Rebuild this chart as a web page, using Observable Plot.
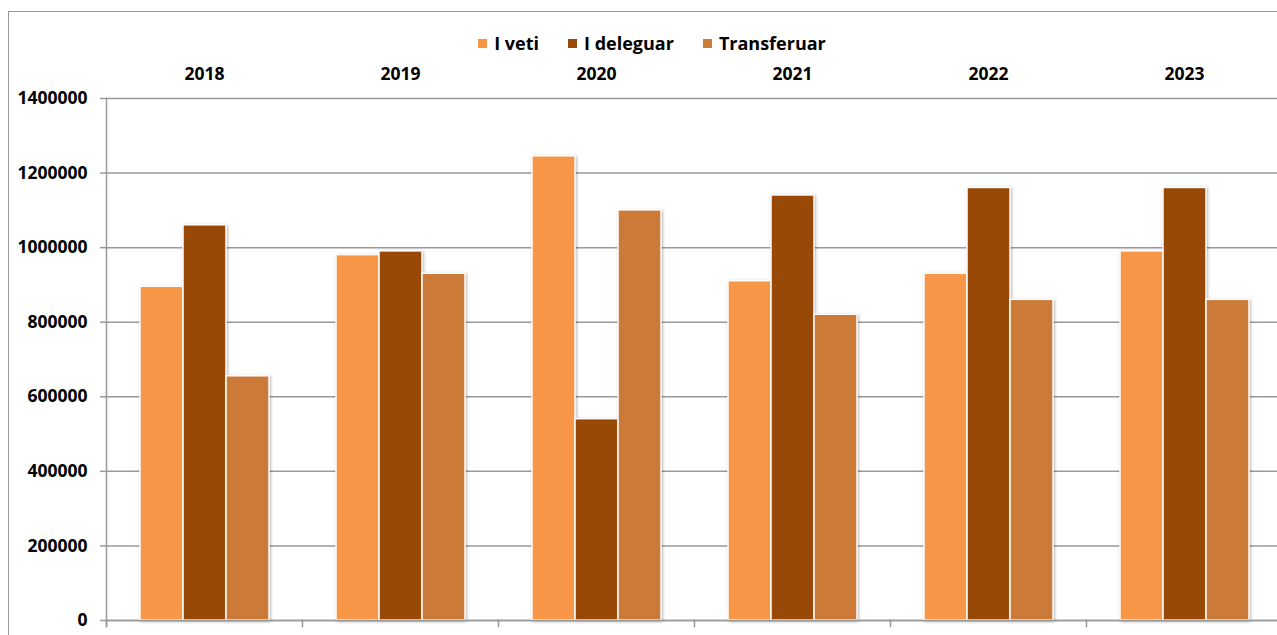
<!DOCTYPE html>
<html><head><meta charset="utf-8">
<script src="https://cdn.jsdelivr.net/npm/d3@7"></script>
<script src="https://cdn.jsdelivr.net/npm/@observablehq/plot@0.6"></script>
<style>
html,body{margin:0;padding:0;background:#fff;overflow:hidden;}
#wrap{position:relative;width:1277px;height:635px;overflow:hidden;font-family:"Open Sans",sans-serif;}
#border{position:absolute;left:8px;top:11px;width:1400px;height:700px;border-left:1.5px solid #999;border-top:1.5px solid #999;}
#legend{position:absolute;top:31px;left:0;width:1304px;display:flex;justify-content:center;gap:29px;font-weight:bold;font-size:18px;line-height:24px;color:#000;}
.item{display:flex;align-items:center;gap:7px}
.sw{width:9px;height:9px;display:inline-block}
#chart{position:absolute;left:0;top:0;width:1290px;}
#chart svg{max-width:none !important;}
</style></head><body><div id="wrap"><div id="border"></div><div id="legend"></div><div id="chart"></div></div>
<script>
const years = ["2018", "2019", "2020", "2021", "2022", "2023"];
const series = ["I veti", "I deleguar", "Transferuar"];
const iVeti = [895000, 980000, 1245000, 910000, 930000, 990000];
const iDeleguar = [1060000, 990000, 540000, 1140000, 1160000, 1160000];
const transferuar = [655000, 930000, 1100000, 820000, 860000, 860000];
const colors = ["#F79646", "#984807", "#CC7A38"];
const yTicks = [0, 200000, 400000, 600000, 800000, 1000000, 1200000, 1400000];

const valuesBySeries = [iVeti, iDeleguar, transferuar];
const data = years.flatMap((y, i) => series.map((s, j) => ({year: y, series: s, value: valuesBySeries[j][i]})));

// legend
const legend = document.getElementById("legend");
series.forEach((s, j) => {
  const it = document.createElement("div");
  it.className = "item";
  const sw = document.createElement("span");
  sw.className = "sw";
  sw.style.background = colors[j];
  const t = document.createElement("span");
  t.textContent = s;
  it.appendChild(sw); it.appendChild(t);
  legend.appendChild(it);
});

const W = 1290, H = 640, ML = 106, MR = 8, MT = 98, MB = 20;
const plotH = H - MT - MB;

const chart = Plot.plot({
  width: W, height: H,
  marginLeft: ML, marginRight: MR, marginTop: MT, marginBottom: MB,
  style: {fontFamily: "Open Sans", fontSize: "17.5px", fontWeight: "bold", color: "#000", background: "transparent", maxWidth: "none"},
  fx: {domain: years, padding: 0, label: null},
  x: {domain: series, paddingInner: 0, paddingOuter: 0.76, axis: null},
  y: {domain: [0, 1400000], label: null},
  color: {domain: series, range: colors},
  marks: [
    Plot.ruleY(yTicks, {stroke: "#999", strokeWidth: 1.5}),
    Plot.barY(data, {fx: "year", x: "series", y: "value", fill: "series", stroke: "white", strokeWidth: 1.5}),
    Plot.axisFx({anchor: "top", tickSize: 0, tickPadding: 19, label: null}),
    Plot.axisY({ticks: yTicks, tickSize: 6, tickPadding: 13, tickFormat: d3.format("d"), label: null, stroke: "#999", strokeWidth: 1.5}),
    Plot.frame({anchor: "left", facetAnchor: "left", stroke: "#999", strokeWidth: 1.5, insetBottom: -6}),
    Plot.frame({anchor: "left", stroke: "#999", strokeWidth: 1.5, insetTop: plotH, insetBottom: -6}),
    Plot.frame({anchor: "bottom", stroke: "#999", strokeWidth: 1.5})
  ]
});
chart.style.maxWidth = "none";
document.getElementById("chart").appendChild(chart);
d3.select(chart).selectAll("g[aria-label=bar]").style("filter", "drop-shadow(1.5px 1px 1.5px rgba(0,0,0,0.3))");
</script></body></html>
